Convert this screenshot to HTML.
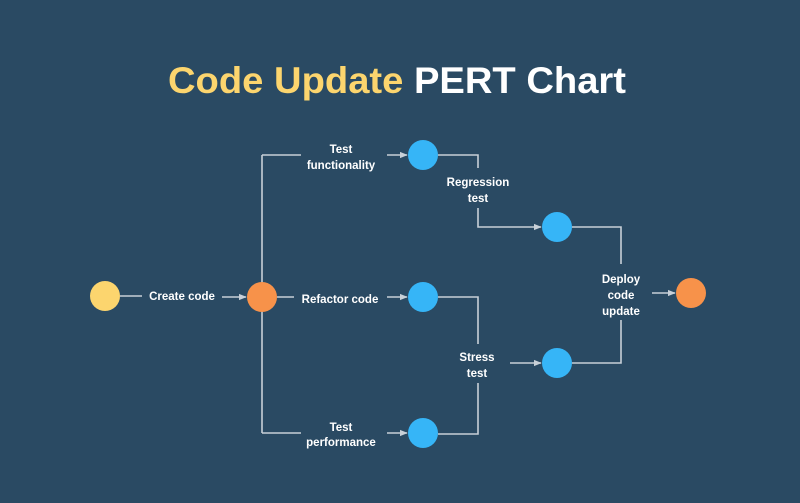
<!DOCTYPE html>
<html><head><meta charset="utf-8"><style>
html,body{margin:0;padding:0;background:#2a4a63;}
svg{display:block}
</style></head><body>
<svg width="800" height="503" viewBox="0 0 800 503" xmlns="http://www.w3.org/2000/svg">
<defs>
<marker id="a" viewBox="0 0 10 10" refX="9" refY="5" markerWidth="5" markerHeight="5" orient="auto"><path d="M0,1 L10,5 L0,9 z" fill="#c8d0d8"/></marker>
</defs>
<rect width="800" height="503" fill="#2a4a63"/>
<text x="168" y="93" font-family="Liberation Sans, sans-serif" font-weight="bold" font-size="37" textLength="458" lengthAdjust="spacingAndGlyphs"><tspan fill="#fcd56e">Code Update</tspan><tspan fill="#ffffff">  PERT Chart</tspan></text>
<g stroke="#c8d0d8" stroke-width="1.6" fill="none">
<line x1="120" y1="296" x2="142" y2="296"/>
<line x1="222" y1="297" x2="246" y2="297" marker-end="url(#a)"/>
<line x1="262" y1="155" x2="262" y2="433"/>
<line x1="262" y1="155" x2="301" y2="155"/>
<line x1="387" y1="155" x2="407" y2="155" marker-end="url(#a)"/>
<line x1="277" y1="297" x2="294" y2="297"/>
<line x1="387" y1="297" x2="407" y2="297" marker-end="url(#a)"/>
<line x1="262" y1="433" x2="301" y2="433"/>
<line x1="387" y1="433" x2="407" y2="433" marker-end="url(#a)"/>
<polyline points="438,155 478,155 478,168"/>
<polyline points="478,208 478,227 541,227" marker-end="url(#a)"/>
<polyline points="438,297 478,297 478,344"/>
<polyline points="478,383 478,434 438,434"/>
<line x1="510" y1="363" x2="541" y2="363" marker-end="url(#a)"/>
<polyline points="572,227 621,227 621,264"/>
<polyline points="621,320 621,363 572,363"/>
<line x1="652" y1="293" x2="675" y2="293" marker-end="url(#a)"/>
</g>
<circle cx="105" cy="296" r="15" fill="#fcd56e"/>
<circle cx="262" cy="297" r="15" fill="#f7924a"/>
<circle cx="691" cy="293" r="15" fill="#f7924a"/>
<g fill="#36b5f7">
<circle cx="423" cy="155" r="15"/>
<circle cx="423" cy="297" r="15"/>
<circle cx="423" cy="433" r="15"/>
<circle cx="557" cy="227" r="15"/>
<circle cx="557" cy="363" r="15"/>
</g>
<g fill="#ffffff" font-family="Liberation Sans, sans-serif" font-weight="bold" font-size="11.5" text-anchor="middle">
<text x="182" y="300">Create code</text>
<text x="341" y="153">Test</text>
<text x="341" y="169">functionality</text>
<text x="340" y="303">Refactor code</text>
<text x="341" y="431">Test</text>
<text x="341" y="446">performance</text>
<text x="478" y="186">Regression</text>
<text x="478" y="202">test</text>
<text x="477" y="361">Stress</text>
<text x="477" y="377">test</text>
<text x="621" y="283">Deploy</text>
<text x="621" y="299">code</text>
<text x="621" y="315">update</text>
</g>
</svg>
</body></html>
